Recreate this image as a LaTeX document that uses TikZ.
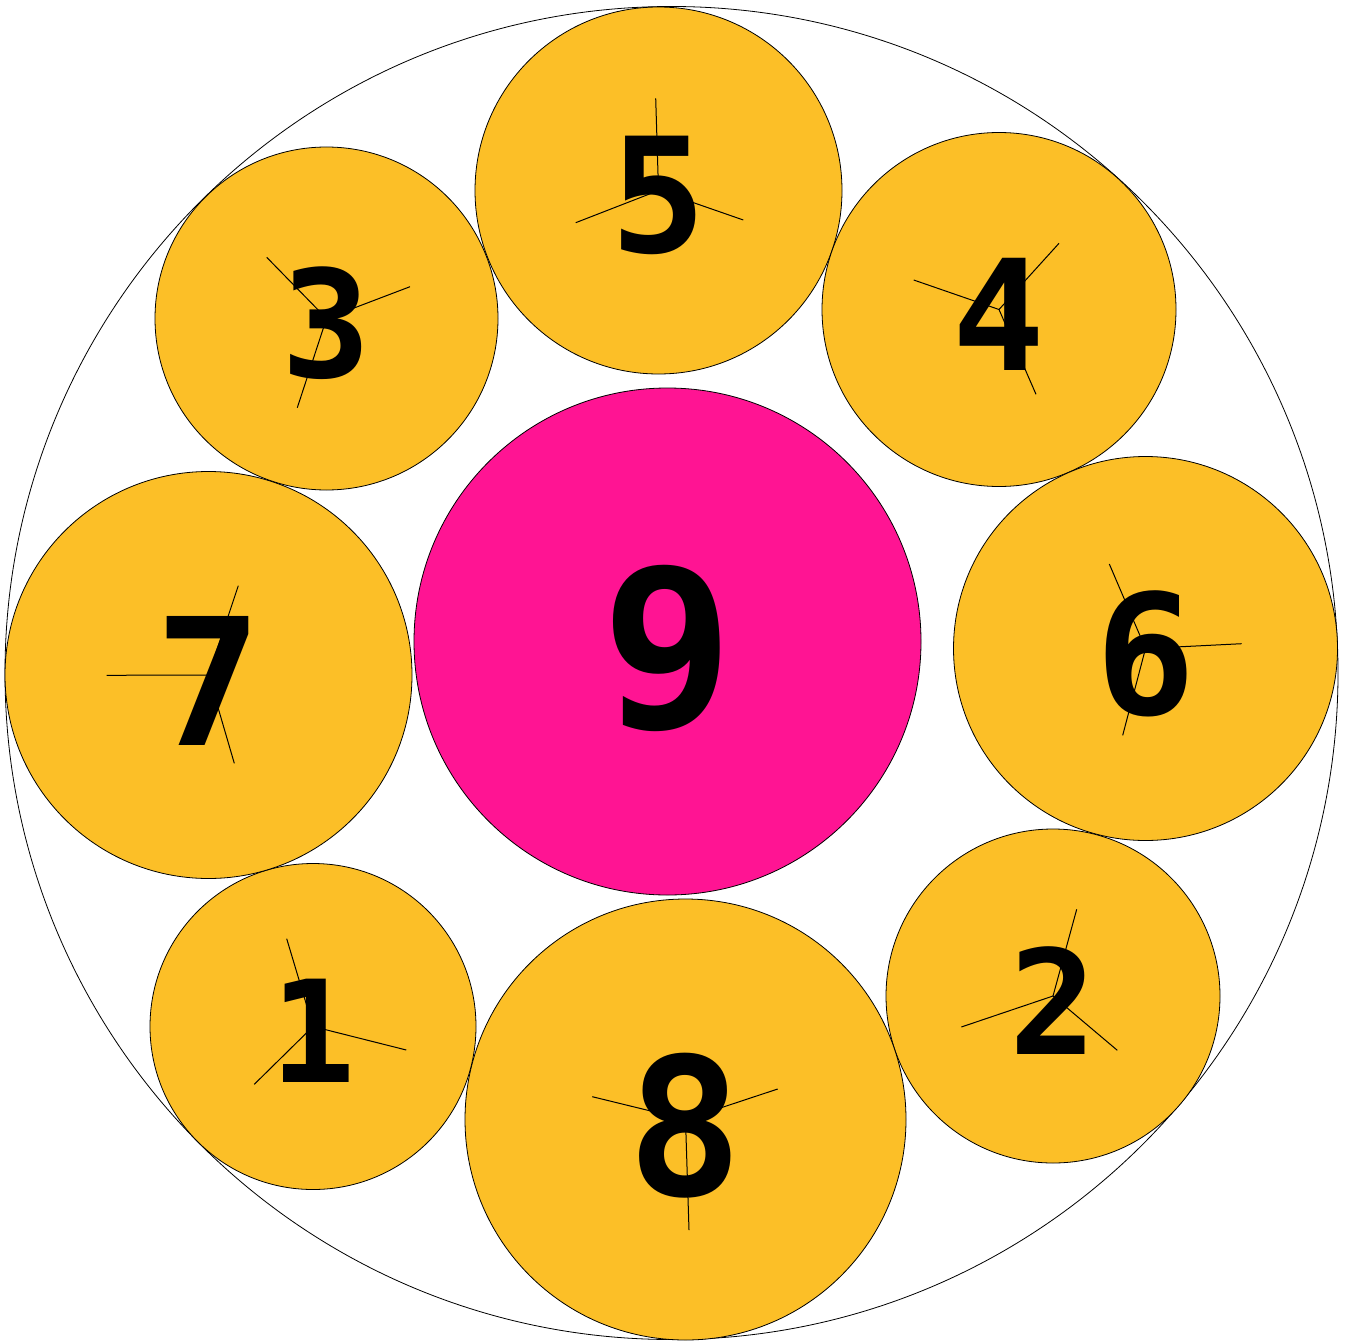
\documentclass[tikz,border=0pt]{standalone}
\usepackage{fontspec}
\newfontfamily\digitfont{DejaVu Sans Mono}
\usetikzlibrary{calc}
\definecolor{ringfill}{RGB}{252,191,39}
\definecolor{hubfill}{RGB}{255,20,147}
\begin{document}
\begin{tikzpicture}[x=1pt,y=-1pt,
  disc/.style={draw=black, line width=0.8pt, circle, inner sep=0pt, outer sep=0pt},
  spoke/.style={draw=black, line width=1pt},
  num/.style={inner sep=0pt, outer sep=0pt, text=black}]
\useasboundingbox (0,0) rectangle (1348,1343);
\coordinate (O) at (671.5,673);
\draw[line width=0.8pt] (O) circle[radius=666.5];
% ring discs
\foreach \n/\x/\y/\r in {5/658.5/190.5/183.5, 4/999/309.5/177, 6/1145.5/648.5/192,
  2/1053/996/167, 8/685.5/1119.5/220.5, 1/313/1026.5/163, 7/208.5/675/203.5,
  3/326.5/318.5/171.5}{
  \node[disc, fill=ringfill, minimum size=2*\r pt] (c\n) at (\x,\y) {};
}
% centre disc
\node[disc, fill=hubfill, minimum size=507pt] (c9) at (667.5,641.5) {};
% spokes (three per ring disc, from its centre)
\foreach \n/\ax/\ay/\bx/\by/\ox/\oy in {
  5/575.7/222.7/743.3/220/655.7/98.3,
  4/913.7/280/1036/394.3/1059/243.3,
  6/1109.3/564/1122.7/735.3/1241.7/643.7,
  2/1076.7/909.3/961.3/1027/1117.3/1050.3,
  8/777.7/1089/592.3/1096.7/689/1230,
  1/406.3/1050/286.7/938.7/254.3/1084.3,
  7/234.3/763.3/238.3/585.7/106.7/675.3,
  3/297.3/407.7/410/286.7/266.7/257.3}{
  \coordinate (s\n a) at (\ax,\ay);
  \coordinate (s\n b) at (\bx,\by);
  \coordinate (s\n o) at (\ox,\oy);
  \draw[spoke] (c\n.center) -- (s\n a) (c\n.center) -- (s\n b) (c\n.center) -- (s\n o);
}
% numbers
\foreach \n/\r in {5/183.5, 4/177, 6/192, 2/167, 8/220.5, 1/163, 7/203.5, 3/171.5, 9/253.5}{
  \pgfmathsetmacro{\fs}{0.87*\r}
  \node[num, font=\digitfont\bfseries\fontsize{\fs pt}{\fs pt}\selectfont]
    (t\n) at ($(c\n.center)+(0,0.027*\r)$) {\n};
}
\end{tikzpicture}
\end{document}
